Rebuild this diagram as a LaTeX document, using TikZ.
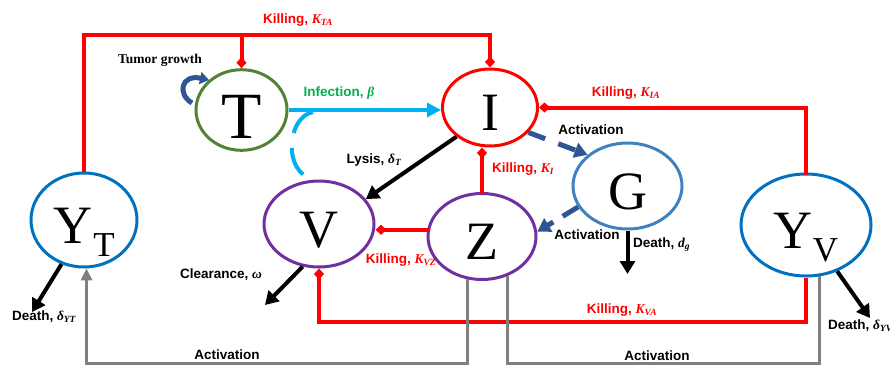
\documentclass[tikz,border=0pt]{standalone}
\usepackage{fontspec}
\setmainfont{Liberation Serif}
\setsansfont{Liberation Sans}
\usetikzlibrary{arrows.meta,shapes.geometric}

\definecolor{killred}{RGB}{255,0,0}
\definecolor{infcyan}{RGB}{0,176,240}
\definecolor{infgreen}{RGB}{0,176,80}
\definecolor{tumgreen}{RGB}{84,130,53}
\definecolor{cellpurple}{RGB}{112,48,160}
\definecolor{tcellblue}{RGB}{0,112,192}
\definecolor{gblue}{RGB}{65,130,190}
\definecolor{actnavy}{RGB}{47,85,151}
\definecolor{actgray}{RGB}{128,128,128}

% bold italic symbols for the rate constants
\newcommand{\mvar}[1]{{\rmfamily\bfseries\itshape #1}}
\newcommand{\msub}[2]{\mvar{#1}\textsubscript{\mvar{#2}}}

\begin{document}
\begin{tikzpicture}[x=1pt,y=-1pt,
  state/.style={ellipse, draw, line width=3pt, inner sep=0pt,
    font=\fontsize{54}{54}\selectfont, text height=46pt, text depth=0pt},
  lab/.style={font=\sffamily\bfseries\fontsize{13.5}{15}\selectfont, inner sep=0pt},
  kill/.style={draw=killred, line width=4pt, line cap=rect,
    -{Diamond[length=11pt,width=10pt]}},
  killplain/.style={draw=killred, line width=4pt},
  outarrow/.style={draw=black, line width=4pt, -{Triangle[length=13pt,width=15pt]}},
  actdash/.style={draw=actnavy, line width=5pt, -{Triangle[length=13pt,width=15pt]}},
  actline/.style={draw=actgray, line width=3pt},
]
\useasboundingbox (0,0) rectangle (890,365);

% ---- cell populations ----
\node[state, draw=tumgreen, minimum width=91pt, minimum height=74pt,
      font=\fontsize{66}{66}\selectfont, text height=57pt] (T) at (241.5,110) {T};
\node[state, draw=killred, minimum width=95pt, minimum height=77pt] (I) at (490,107.5) {I};
\node[state, draw=gblue, minimum width=109pt, minimum height=86pt] (G) at (627.5,186) {G};
\node[state, draw=cellpurple, minimum width=110pt, minimum height=86pt] (V) at (319,224) {V};
\node[state, draw=cellpurple, minimum width=108pt, minimum height=86pt] (Z) at (482,236.5) {Z};
\node[state, draw=tcellblue, minimum width=106pt, minimum height=94pt] (YT) at (84,220)
  {Y\kern1pt\raisebox{-13pt}{\fontsize{35}{35}\selectfont T}};
\node[state, draw=tcellblue, minimum width=130pt, minimum height=102pt] (YV) at (806,225)
  {Y\kern0pt\raisebox{-13pt}{\fontsize{35}{35}\selectfont V}};

% ---- routing levels and free ends ----
\coordinate (topbar) at (0,35);
\coordinate (vabar) at (0,322);
\coordinate (botbar) at (0,363);
\coordinate (clrEnd) at (265,305);
\coordinate (dytEnd) at (32,312);
\coordinate (dyvEnd) at (870,318);
\coordinate (dgEnd) at (627.5,274);
\coordinate (virA) at (313,112);
\coordinate (tgA) at (192,103);
\coordinate (tgB) at (209,80);

% ---- killing interactions ----
\draw[killplain] (YT.north) -- (YT.north |- topbar) -| (I.north |- topbar);
\draw[kill] (I.north |- topbar) -- (I.north);
\draw[kill] (T.north |- topbar) -- (T.north);
\draw[kill] (YV.north) |- (I.east);
\draw[kill] (Z.north) -- (Z.north |- I.south);
\draw[kill] (Z.173) -- (V.east |- Z.173);
\draw[killplain] (YV.south) -- (YV.south |- vabar) -| (V.south |- vabar);
\draw[kill] (V.south |- vabar) -- (V.south);

% ---- infection and virus release ----
\draw[draw=infcyan, line width=4pt, -{Triangle[length=14pt,width=14pt]}]
  (T.east) -- (T.east -| I.west);
\draw[draw=infcyan, line width=4pt, dash pattern=on 30pt off 15pt]
  (virA) .. controls (287,117) and (282,172) .. (V.97);

% ---- outflows ----
\draw[outarrow] (I.221) -- (V.28);
\draw[outarrow] (V.-111) -- (clrEnd);
\draw[outarrow] (YT.-117) -- (dytEnd);
\draw[outarrow] (YV.-56) -- (dyvEnd);
\draw[outarrow] (G.south) -- (dgEnd);

% ---- activation ----
\draw[actdash, dash pattern=on 18pt off 14pt] (I.-33) -- (G.142);
\draw[actdash, dash pattern=on 18pt off 11pt] (G.203) -- (Z.5);
\draw[actline, -{Triangle[length=12pt,width=11pt]}]
  (Z.-109) -- (Z.-109 |- botbar) -| (YT.-87);
\draw[actline] (Z.-57) -- (Z.-57 |- botbar) -| (YV.-75);

% ---- tumor growth ----
\draw[draw=actnavy, line width=5pt, -{Triangle[length=9pt,width=12pt]}]
  (tgA) .. controls (177,94) and (181,74) .. (tgB);

% ---- labels ----
\node[lab, text=killred] (lKTA) at (298,20) {Killing, \msub{K}{TA}};
\node[lab, text=killred] (lKIA) at (626,93) {Killing, \msub{K}{IA}};
\node[lab, text=killred] (lKI) at (523,169) {Killing, \msub{K}{I}};
\node[lab, text=killred] (lKVZ) at (401,260) {Killing, \msub{K}{VZ}};
\node[lab, text=killred] (lKVA) at (622,310) {Killing, \msub{K}{VA}};
\node[lab, text=infgreen] (lInf) at (339,93) {Infection, \mvar{β}};
\node[lab] (lLys) at (374,160) {Lysis, \msub{δ}{T}};
\node[lab] (lActG) at (591,130) {Activation};
\node[lab] (lActZ) at (587,235) {Activation};
\node[lab, anchor=west] (lDg) at (633,245) {Death, \msub{d}{g}};
\node[lab] (lClr) at (221,275) {Clearance, \mvar{ω}};
\node[lab] (lDyt) at (44,317) {Death, \msub{δ}{YT}};
\node[lab, anchor=west] (lDyv) at (828,326) {Death, \msub{δ}{YV}};
\node[lab] (lActL) at (227,355) {Activation};
\node[lab] (lActR) at (657,356) {Activation};
\node[font=\rmfamily\bfseries\fontsize{13.5}{15}\selectfont, inner sep=0pt] (lTum) at (160,60) {Tumor growth};
\end{tikzpicture}
\end{document}
